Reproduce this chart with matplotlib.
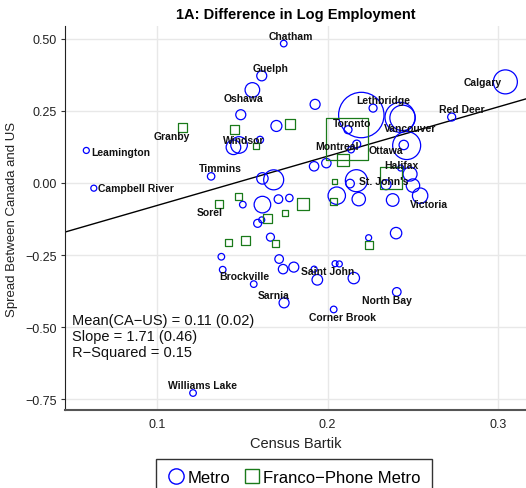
import matplotlib
matplotlib.use("Agg")
import matplotlib.pyplot as plt
from matplotlib.lines import Line2D

plt.rcParams['font.family'] = ['Liberation Sans', 'DejaVu Sans']

# ---- data ----
# metro (circles): census bartik, spread CA-US, relative size
metro_x = [0.1743, 0.1614, 0.1559, 0.1491, 0.1700, 0.1448, 0.1481, 0.1604, 0.0585, 0.0629,
           0.1317, 0.1618, 0.1684, 0.1503, 0.1618, 0.1712, 0.1776, 0.1590, 0.1614, 0.1665,
           0.1377, 0.1385, 0.1567, 0.1716, 0.1739, 0.1802, 0.1745, 0.1211, 0.3043, 0.1927,
           0.2198, 0.2267, 0.2425, 0.2440, 0.2464, 0.2447, 0.2728, 0.2120, 0.2171, 0.2138,
           0.1921, 0.1993, 0.2429, 0.2484, 0.2169, 0.2132, 0.2343, 0.2501, 0.2543, 0.2054,
           0.2183, 0.2382, 0.2241, 0.2402, 0.1921, 0.1940, 0.2044, 0.2069, 0.2154, 0.2406,
           0.2036]
metro_y = [0.484, 0.372, 0.323, 0.237, 0.198, 0.124, 0.132, 0.150, 0.113, -0.018,
           0.023, 0.016, 0.011, -0.075, -0.075, -0.056, -0.052, -0.140, -0.128, -0.188,
           -0.256, -0.301, -0.351, -0.264, -0.299, -0.292, -0.416, -0.729, 0.351, 0.273,
           0.236, 0.260, 0.228, 0.226, 0.130, 0.132, 0.229, 0.185, 0.135, 0.116,
           0.058, 0.069, 0.052, 0.031, 0.008, -0.002, -0.006, -0.009, -0.044, -0.044,
           -0.056, -0.059, -0.190, -0.174, -0.299, -0.336, -0.280, -0.281, -0.330, -0.378,
           -0.439]
metro_w = [3.3, 5.0, 7.3, 5.0, 5.5, 7.3, 8.3, 3.5, 3.0, 3.0,
           3.7, 5.7, 10.0, 3.3, 8.3, 4.3, 3.7, 4.0, 3.0, 4.0,
           3.3, 3.3, 3.3, 4.3, 4.7, 5.0, 5.0, 3.3, 12.0, 5.0,
           22.7, 4.0, 15.0, 12.7, 14.0, 4.7, 4.0, 4.0, 4.0, 3.3,
           4.7, 4.7, 3.0, 7.0, 11.0, 4.3, 5.0, 6.7, 7.7, 8.7,
           6.7, 6.3, 3.0, 5.7, 3.0, 5.3, 3.0, 3.0, 5.7, 4.3,
           3.3]

# franco-phone metro (squares)
franco_x = [0.1147, 0.1457, 0.1780, 0.1579, 0.1362, 0.1480, 0.1647, 0.1753, 0.1418, 0.1516,
            0.1696, 0.2114, 0.2089, 0.2374, 0.2042, 0.2036, 0.1856, 0.2245]
franco_y = [0.192, 0.185, 0.204, 0.130, -0.074, -0.046, -0.122, -0.104, -0.207, -0.201,
            -0.211, 0.153, 0.080, 0.016, 0.005, -0.065, -0.073, -0.214]
franco_w = [9.0, 9.0, 10.0, 6.0, 8.0, 7.0, 9.0, 6.0, 7.0, 9.0,
            7.0, 42.0, 12.0, 22.0, 4.5, 7.0, 12.7, 8.0]

metro_names = {0: 'Chatham', 1: 'Guelph', 2: 'Oshawa', 5: 'Windsor', 8: 'Leamington',
               9: 'Campbell River', 10: 'Timmins', 22: 'Brockville', 26: 'Sarnia',
               27: 'Williams Lake', 28: 'Calgary', 30: 'Toronto', 31: 'Lethbridge',
               32: 'Vancouver', 34: 'Ottawa', 36: 'Red Deer', 43: 'Halifax',
               46: "St. John's", 48: 'Victoria', 55: 'Saint John', 59: 'North Bay',
               60: 'Corner Brook'}
franco_names = {0: 'Granby', 4: 'Sorel', 11: 'Montreal'}

fit_slope = 1.71
fit_intercept = -0.249
stats_lines = ['Mean(CA\u2212US) = 0.11 (0.02)',
               'Slope = 1.71 (0.46)',
               'R\u2212Squared = 0.15']

# label offsets (pixels, right / down)
metro_off = {0: (7, -8), 1: (9, -8), 2: (-9, 8), 5: (10, -7), 8: (34, 2),
             9: (42, 0), 10: (9, -8), 22: (-9, -8), 26: (-10, -8), 27: (9, -8),
             28: (-23, 0), 30: (-9.5, 8), 31: (10, -8), 32: (10, 11), 34: (-21, 4),
             36: (10, -8), 43: (-9, -9), 46: (-2.5, -3.5), 48: (9, 8), 55: (10, -9),
             59: (-10, 8), 60: (9, 8)}
franco_off = {0: (-10, 8.5), 4: (-9, 8), 11: (-9.5, 7.5)}

blue = '#0000ff'
green = '#1a7a1a'
px = 0.72  # points per pixel at dpi 100

fig = plt.figure(figsize=(5.26, 4.89), dpi=100)
ax = fig.add_axes([65 / 526, 1 - 411 / 489, 461 / 526, 384 / 489])

ax.scatter(metro_x, metro_y, s=[(2 * w * px) ** 2 for w in metro_w], marker='o',
           facecolors='none', edgecolors=blue, linewidths=0.9, zorder=3)
ax.scatter(franco_x, franco_y, s=[(w * px) ** 2 for w in franco_w], marker='s',
           facecolors='none', edgecolors=green, linewidths=0.9, zorder=3)
ax.axline((0, fit_intercept), slope=fit_slope, color='black', lw=1.0, zorder=2)

for i, name in metro_names.items():
    dx, dy = metro_off[i]
    ax.annotate(name, (metro_x[i], metro_y[i]), xytext=(dx * px, -dy * px),
                textcoords='offset points', ha='center', va='center',
                fontsize=7.5, fontweight='bold', color='#111111', zorder=4)
for i, name in franco_names.items():
    dx, dy = franco_off[i]
    ax.annotate(name, (franco_x[i], franco_y[i]), xytext=(dx * px, -dy * px),
                textcoords='offset points', ha='center', va='center',
                fontsize=7.5, fontweight='bold', color='#111111', zorder=4)

for k, line in enumerate(stats_lines):
    ax.text(0.016, 0.234 - k * 0.041, line, transform=ax.transAxes,
            ha='left', va='center', fontsize=10.5, color='#111111')

ax.set_xlim(0.046, 0.3164)
ax.set_ylim(-0.788, 0.545)
ax.set_xticks([0.1, 0.2, 0.3])
ax.set_yticks([-0.75, -0.5, -0.25, 0.0, 0.25, 0.5])
ax.grid(True, color='#e8e8e8', lw=1.0, zorder=0)
ax.set_axisbelow(True)
for s in ['top', 'right']:
    ax.spines[s].set_visible(False)
ax.spines['left'].set_color('#222222')
ax.spines['bottom'].set_color('#555555')
ax.spines['bottom'].set_linewidth(1.5)
ax.tick_params(axis='x', length=0, pad=6, labelsize=9, labelcolor='#222222')
ax.tick_params(axis='y', length=3, pad=3, labelsize=9, labelcolor='#222222', color='#333333')

ax.set_title('1A: Difference in Log Employment', fontsize=10.5, fontweight='bold', pad=6)
ax.set_xlabel('Census Bartik', fontsize=10.5, labelpad=4, color='#222222')
ax.set_ylabel('Spread Between Canada and US', fontsize=9.5, labelpad=5, color='#222222')

handles = [Line2D([], [], ls='none', marker='o', ms=11, mfc='none', mec=blue, mew=1.0),
           Line2D([], [], ls='none', marker='s', ms=10.5, mfc='none', mec=green, mew=1.0)]
leg = fig.legend(handles, ['Metro', 'Franco\u2212Phone Metro'], loc='upper center',
                 bbox_to_anchor=(294 / 526, 1 - 459.5 / 489), ncol=2, fontsize=12,
                 frameon=True, fancybox=False, handlelength=1.0, handletextpad=0.2,
                 columnspacing=0.8, borderpad=0.7, borderaxespad=0)
leg.get_frame().set_edgecolor('black')
leg.get_frame().set_linewidth(1.0)

fig.savefig('out.png', dpi=100)
